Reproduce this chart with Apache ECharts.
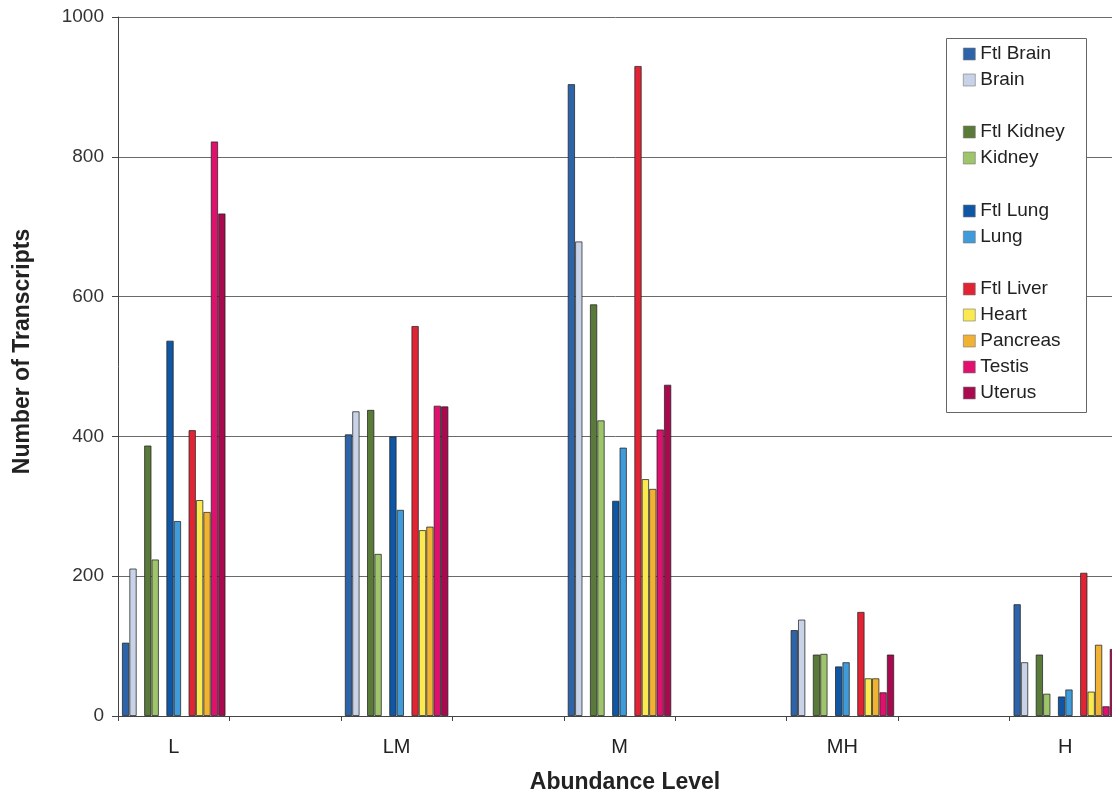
<!DOCTYPE html>
<html>
<head>
<meta charset="utf-8">
<script src="https://cdn.jsdelivr.net/npm/echarts@6/dist/echarts.min.js"></script>
<style>
html,body{margin:0;padding:0;background:#fff;}
#chart{width:1112px;height:794px;}
</style>
</head>
<body>
<div id="chart"></div>
<script>
// Categories (empty slots separate the abundance groups)
const categories = ['L', '', 'LM', '', 'M', '', 'MH', '', 'H'];
const yTicks = [0, 200, 400, 600, 800, 1000];

// Series values (null for empty separator categories)
const ftlBrain   = [105, null, 403, null, 904, null, 123, null, 160];
const brain      = [211, null, 436, null, 679, null, 138, null, 77];
const ftlKidney  = [387, null, 438, null, 589, null, 88, null, 88];
const kidney     = [224, null, 232, null, 423, null, 89, null, 32];
const ftlLung    = [537, null, 400, null, 308, null, 71, null, 28];
const lung       = [279, null, 295, null, 384, null, 77, null, 38];
const ftlLiver   = [409, null, 558, null, 930, null, 149, null, 205];
const heart      = [309, null, 266, null, 339, null, 54, null, 35];
const pancreas   = [292, null, 271, null, 325, null, 54, null, 102];
const testis     = [822, null, 444, null, 410, null, 34, null, 14];
const uterus     = [719, null, 443, null, 474, null, 88, null, 96];

const seriesDefs = [
  {name: 'Ftl Brain', data: ftlBrain, color: '#2d63a8'},
  {name: 'Brain', data: brain, color: '#c9d3e8'},
  {name: '_gap1', data: [], color: 'transparent'},
  {name: 'Ftl Kidney', data: ftlKidney, color: '#5a7a3a'},
  {name: 'Kidney', data: kidney, color: '#9ec46c'},
  {name: '_gap2', data: [], color: 'transparent'},
  {name: 'Ftl Lung', data: ftlLung, color: '#0f57a5'},
  {name: 'Lung', data: lung, color: '#3f9bd9'},
  {name: '_gap3', data: [], color: 'transparent'},
  {name: 'Ftl Liver', data: ftlLiver, color: '#e02433'},
  {name: 'Heart', data: heart, color: '#fbe950'},
  {name: 'Pancreas', data: pancreas, color: '#f1b234'},
  {name: 'Testis', data: testis, color: '#e0106f'},
  {name: 'Uterus', data: uterus, color: '#a8094f'}
];

const legendGroups = [
  ['Ftl Brain', 'Brain'],
  ['Ftl Kidney', 'Kidney'],
  ['Ftl Lung', 'Lung'],
  ['Ftl Liver', 'Heart', 'Pancreas', 'Testis', 'Uterus']
];
const legendTops = [44, 122, 201, 279];

const FONT = 'Liberation Sans, Arial, Helvetica, sans-serif';
const chart = echarts.init(document.getElementById('chart'), null, {renderer: 'canvas'});

const series = seriesDefs.map(s => ({
  name: s.name,
  type: 'bar',
  data: s.data.length ? s.data : categories.map(() => null),
  barGap: '0%',
  barCategoryGap: '7%',
  itemStyle: {
    color: s.color,
    borderColor: 'rgba(35,35,35,0.75)',
    borderWidth: s.data.length ? 1 : 0
  },
  emphasis: {disabled: true},
  animation: false
}));

const legends = legendGroups.map((g, i) => ({
  orient: 'vertical',
  left: 963,
  top: legendTops[i],
  padding: 0,
  data: g,
  icon: 'rect',
  itemWidth: 12,
  itemHeight: 12,
  itemGap: 6,
  selectedMode: false,
  itemStyle: {borderColor: '#777', borderWidth: 0.6},
  textStyle: {fontFamily: FONT, fontSize: 19, color: '#222', lineHeight: 20},
  z: 10
}));

chart.setOption({
  animation: false,
  backgroundColor: '#fff',
  grid: {left: 118, top: 17, height: 699, width: 1003, containLabel: false, outerBoundsMode: 'none'},
  graphic: [{
    type: 'rect',
    left: 946, top: 38,
    shape: {width: 140, height: 374},
    style: {fill: '#fff', stroke: '#666', lineWidth: 1},
    z: 5
  }],
  legend: legends,
  xAxis: {
    type: 'category',
    data: categories,
    name: 'Abundance Level',
    nameLocation: 'middle',
    nameGap: 55,
    nameTextStyle: {fontFamily: FONT, fontSize: 23, fontWeight: 'bold', color: '#222', padding: [0, 0, 0, 11]},
    axisLine: {lineStyle: {color: '#444', width: 1}},
    axisTick: {show: true, interval: 0, length: 5, lineStyle: {color: '#444'}},
    axisLabel: {interval: 0, margin: 21, fontFamily: FONT, fontSize: 20, color: '#222'},
    splitLine: {show: false}
  },
  yAxis: {
    type: 'value',
    min: 0,
    max: 1000,
    interval: 200,
    name: 'Number of Transcripts',
    nameLocation: 'middle',
    nameGap: 84,
    nameTextStyle: {fontFamily: FONT, fontSize: 23, fontWeight: 'bold', color: '#222', padding: [0, 0, 0, 30]},
    axisLine: {show: true, lineStyle: {color: '#444', width: 1}},
    axisTick: {show: true, length: 6, lineStyle: {color: '#444'}},
    axisLabel: {margin: 14, fontFamily: FONT, fontSize: 19, color: '#333',
      formatter: v => yTicks.includes(v) ? String(v) : ''},
    splitLine: {show: true, lineStyle: {color: '#6a6a6a', width: 1}}
  },
  series: series
});
</script>
</body>
</html>
